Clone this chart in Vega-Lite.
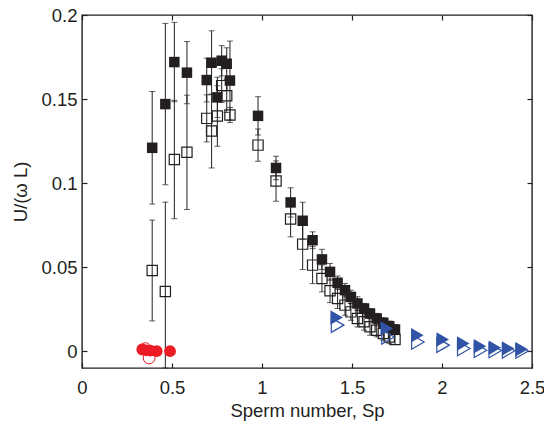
{
  "$schema": "https://vega.github.io/schema/vega-lite/v6.json",
  "autosize": {"type": "none"},
  "padding": {"left": 82, "top": 15, "right": 12, "bottom": 53},
  "width": 450,
  "height": 353,
  "background": "white",
  "config": {
    "view": {"stroke": "#231f20", "strokeWidth": 1.4},
    "axis": {
      "labelFont": "Liberation Sans", "titleFont": "Liberation Sans",
      "labelFontSize": 18.5, "titleFontSize": 18.5, "titleFontWeight": "normal",
      "labelColor": "#231f20", "titleColor": "#231f20",
      "tickColor": "#231f20", "tickSize": -5, "tickWidth": 1.2,
      "domain": false, "grid": false
    }
  },
  "datasets": {
    "sq": [
      {"sp": 0.390, "u": 0.121, "lo": 0.0875, "hi": 0.1545, "kind": "filled"},
      {"sp": 0.463, "u": 0.147, "lo": 0.099, "hi": 0.195, "kind": "filled"},
      {"sp": 0.513, "u": 0.172, "lo": 0.1484, "hi": 0.1956, "kind": "filled"},
      {"sp": 0.583, "u": 0.1657, "lo": 0.1472, "hi": 0.1842, "kind": "filled"},
      {"sp": 0.693, "u": 0.1613, "lo": 0.1483, "hi": 0.1743, "kind": "filled"},
      {"sp": 0.720, "u": 0.1716, "lo": 0.1526, "hi": 0.1906, "kind": "filled"},
      {"sp": 0.752, "u": 0.151, "lo": 0.139, "hi": 0.163, "kind": "filled"},
      {"sp": 0.776, "u": 0.1728, "lo": 0.1638, "hi": 0.1818, "kind": "filled"},
      {"sp": 0.804, "u": 0.171, "lo": 0.1615, "hi": 0.1805, "kind": "filled"},
      {"sp": 0.822, "u": 0.161, "lo": 0.1375, "hi": 0.1845, "kind": "filled"},
      {"sp": 0.978, "u": 0.140, "lo": 0.1286, "hi": 0.1514, "kind": "filled"},
      {"sp": 1.078, "u": 0.109, "lo": 0.102, "hi": 0.116, "kind": "filled"},
      {"sp": 1.159, "u": 0.0885, "lo": 0.0798, "hi": 0.0972, "kind": "filled"},
      {"sp": 1.226, "u": 0.0776, "lo": 0.0666, "hi": 0.0886, "kind": "filled"},
      {"sp": 1.281, "u": 0.066, "lo": 0.061, "hi": 0.071, "kind": "filled"},
      {"sp": 1.333, "u": 0.0546, "lo": 0.0486, "hi": 0.0606, "kind": "filled"},
      {"sp": 1.378, "u": 0.0472, "lo": 0.0422, "hi": 0.0522, "kind": "filled"},
      {"sp": 1.420, "u": 0.0407, "lo": 0.0367, "hi": 0.0447, "kind": "filled"},
      {"sp": 1.461, "u": 0.0363, "lo": 0.0323, "hi": 0.0403, "kind": "filled"},
      {"sp": 1.494, "u": 0.0323, "lo": 0.0283, "hi": 0.0363, "kind": "filled"},
      {"sp": 1.530, "u": 0.0284, "lo": 0.0244, "hi": 0.0324, "kind": "filled"},
      {"sp": 1.567, "u": 0.0254, "lo": 0.0224, "hi": 0.0284, "kind": "filled"},
      {"sp": 1.600, "u": 0.0224, "lo": 0.0194, "hi": 0.0254, "kind": "filled"},
      {"sp": 1.637, "u": 0.0195, "lo": 0.0165, "hi": 0.0225, "kind": "filled"},
      {"sp": 1.674, "u": 0.0169, "lo": 0.0139, "hi": 0.0199, "kind": "filled"},
      {"sp": 1.707, "u": 0.0149, "lo": 0.0119, "hi": 0.0179, "kind": "filled"},
      {"sp": 1.739, "u": 0.0129, "lo": 0.0099, "hi": 0.0159, "kind": "filled"},
      {"sp": 0.390, "u": 0.048, "lo": 0.018, "hi": 0.078, "kind": "open"},
      {"sp": 0.463, "u": 0.0355, "lo": -0.01, "hi": 0.0887, "kind": "open"},
      {"sp": 0.513, "u": 0.114, "lo": 0.0788, "hi": 0.1492, "kind": "open"},
      {"sp": 0.583, "u": 0.1183, "lo": 0.0843, "hi": 0.1523, "kind": "open"},
      {"sp": 0.693, "u": 0.1385, "lo": 0.1245, "hi": 0.1525, "kind": "open"},
      {"sp": 0.720, "u": 0.131, "lo": 0.109, "hi": 0.153, "kind": "open"},
      {"sp": 0.752, "u": 0.1399, "lo": 0.1219, "hi": 0.1579, "kind": "open"},
      {"sp": 0.776, "u": 0.158, "lo": 0.148, "hi": 0.168, "kind": "open"},
      {"sp": 0.804, "u": 0.152, "lo": 0.142, "hi": 0.162, "kind": "open"},
      {"sp": 0.822, "u": 0.1405, "lo": 0.136, "hi": 0.145, "kind": "open"},
      {"sp": 0.978, "u": 0.1226, "lo": 0.113, "hi": 0.1322, "kind": "open"},
      {"sp": 1.078, "u": 0.1012, "lo": 0.0892, "hi": 0.1132, "kind": "open"},
      {"sp": 1.159, "u": 0.0786, "lo": 0.068, "hi": 0.0892, "kind": "open"},
      {"sp": 1.226, "u": 0.0637, "lo": 0.0486, "hi": 0.0788, "kind": "open"},
      {"sp": 1.281, "u": 0.0512, "lo": 0.0402, "hi": 0.0622, "kind": "open"},
      {"sp": 1.333, "u": 0.0433, "lo": 0.0353, "hi": 0.0513, "kind": "open"},
      {"sp": 1.378, "u": 0.0359, "lo": 0.0289, "hi": 0.0429, "kind": "open"},
      {"sp": 1.420, "u": 0.0314, "lo": 0.0254, "hi": 0.0374, "kind": "open"},
      {"sp": 1.461, "u": 0.0274, "lo": 0.0214, "hi": 0.0334, "kind": "open"},
      {"sp": 1.494, "u": 0.0234, "lo": 0.0184, "hi": 0.0284, "kind": "open"},
      {"sp": 1.530, "u": 0.0194, "lo": 0.0144, "hi": 0.0244, "kind": "open"},
      {"sp": 1.567, "u": 0.0175, "lo": 0.0125, "hi": 0.0225, "kind": "open"},
      {"sp": 1.600, "u": 0.0145, "lo": 0.0095, "hi": 0.0195, "kind": "open"},
      {"sp": 1.637, "u": 0.0125, "lo": 0.0085, "hi": 0.0165, "kind": "open"},
      {"sp": 1.674, "u": 0.0105, "lo": 0.0065, "hi": 0.0145, "kind": "open"},
      {"sp": 1.707, "u": 0.0085, "lo": 0.0045, "hi": 0.0125, "kind": "open"},
      {"sp": 1.739, "u": 0.007, "lo": 0.004, "hi": 0.010, "kind": "open"}
    ],
    "tri": [
      {"sp": 1.420, "u": 0.0155, "kind": "open"},
      {"sp": 1.700, "u": 0.0085, "kind": "open"},
      {"sp": 1.866, "u": 0.0055, "kind": "open"},
      {"sp": 2.006, "u": 0.0036, "kind": "open"},
      {"sp": 2.121, "u": 0.0016, "kind": "open"},
      {"sp": 2.214, "u": 0.0006, "kind": "open"},
      {"sp": 2.296, "u": 0.0004, "kind": "open"},
      {"sp": 2.370, "u": 0.0002, "kind": "open"},
      {"sp": 2.445, "u": 0.0001, "kind": "open"},
      {"sp": 1.415, "u": 0.020, "kind": "filled"},
      {"sp": 1.693, "u": 0.0135, "kind": "filled"},
      {"sp": 1.863, "u": 0.0095, "kind": "filled"},
      {"sp": 2.004, "u": 0.007, "kind": "filled"},
      {"sp": 2.118, "u": 0.0046, "kind": "filled"},
      {"sp": 2.211, "u": 0.003, "kind": "filled"},
      {"sp": 2.294, "u": 0.002, "kind": "filled"},
      {"sp": 2.368, "u": 0.0016, "kind": "filled"},
      {"sp": 2.443, "u": 0.0012, "kind": "filled"}
    ],
    "circ": [
      {"sp": 0.352, "u": 0.0015, "kind": "open"},
      {"sp": 0.373, "u": -0.004, "kind": "open"},
      {"sp": 0.335, "u": 0.001, "kind": "filled"},
      {"sp": 0.359, "u": 0.0005, "kind": "filled"},
      {"sp": 0.380, "u": 0.0003, "kind": "filled"},
      {"sp": 0.415, "u": 0.0, "kind": "filled"},
      {"sp": 0.489, "u": 0.0, "kind": "filled"}
    ]
  },
  "encoding": {
    "x": {"field": "sp", "type": "quantitative", "scale": {"domain": [0, 2.5], "nice": false, "zero": false}, "axis": null},
    "y": {"field": "u", "type": "quantitative", "scale": {"domain": [-0.01, 0.2], "nice": false, "zero": false}, "axis": null}
  },
  "layer": [
    {
      "data": {"name": "sq"},
      "mark": {"type": "rule", "color": "#231f20", "strokeWidth": 1},
      "encoding": {
        "x": {"field": "sp", "type": "quantitative", "scale": {"domain": [0, 2.5], "nice": false, "zero": false}, "axis": {"orient": "bottom", "values": [0, 0.5, 1, 1.5, 2, 2.5], "format": "~g", "title": "Sperm number, Sp", "labelPadding": 15, "titlePadding": 5, "labelFlush": false}},
        "y": {"field": "lo", "type": "quantitative", "scale": {"domain": [-0.01, 0.2], "nice": false, "zero": false}, "axis": {"orient": "left", "values": [0, 0.05, 0.1, 0.15, 0.2], "format": "~g", "title": "U/(ω L)", "labelPadding": 10, "titlePadding": 10, "labelFlush": false}},
        "y2": {"field": "hi"}
      }
    },
    {
      "data": {"name": "sq"},
      "mark": {"type": "tick", "orient": "horizontal", "color": "#231f20", "size": 6, "thickness": 1},
      "encoding": {"y": {"field": "lo", "type": "quantitative", "scale": {"domain": [-0.01, 0.2], "nice": false, "zero": false}, "axis": null}}
    },
    {
      "data": {"name": "sq"},
      "mark": {"type": "tick", "orient": "horizontal", "color": "#231f20", "size": 6, "thickness": 1},
      "encoding": {"y": {"field": "hi", "type": "quantitative", "scale": {"domain": [-0.01, 0.2], "nice": false, "zero": false}, "axis": null}}
    },
    {
      "data": {"name": "sq"},
      "transform": [{"filter": "datum.kind === 'open'"}],
      "mark": {"type": "point", "shape": "square", "filled": false, "stroke": "#231f20", "strokeWidth": 1.2, "size": 105, "opacity": 1}
    },
    {
      "data": {"name": "sq"},
      "transform": [{"filter": "datum.kind === 'filled'"}],
      "mark": {"type": "point", "shape": "square", "filled": true, "fill": "#231f20", "size": 110, "opacity": 1}
    },
    {
      "data": {"name": "tri"},
      "transform": [{"filter": "datum.kind === 'open'"}],
      "mark": {"type": "point", "shape": "triangle-right", "filled": false, "stroke": "#3153a6", "strokeWidth": 1.2, "size": 210, "opacity": 1}
    },
    {
      "data": {"name": "tri"},
      "transform": [{"filter": "datum.kind === 'filled'"}],
      "mark": {"type": "point", "shape": "triangle-right", "filled": true, "fill": "#3153a6", "size": 210, "opacity": 1}
    },
    {
      "data": {"name": "circ"},
      "transform": [{"filter": "datum.kind === 'open'"}],
      "mark": {"type": "point", "shape": "circle", "filled": false, "stroke": "#ec1c24", "strokeWidth": 1, "size": 140, "opacity": 1}
    },
    {
      "data": {"name": "circ"},
      "transform": [{"filter": "datum.kind === 'filled'"}],
      "mark": {"type": "point", "shape": "circle", "filled": true, "fill": "#ec1c24", "size": 140, "opacity": 1},
      "encoding": {
        "x": {"field": "sp", "type": "quantitative", "scale": {"domain": [0, 2.5], "nice": false, "zero": false}, "axis": {"orient": "top", "values": [0, 0.5, 1, 1.5, 2, 2.5], "labels": false, "title": null}},
        "y": {"field": "u", "type": "quantitative", "scale": {"domain": [-0.01, 0.2], "nice": false, "zero": false}, "axis": {"orient": "right", "values": [0, 0.05, 0.1, 0.15, 0.2], "labels": false, "title": null}}
      }
    }
  ],
  "resolve": {"axis": {"x": "independent", "y": "independent"}}
}
